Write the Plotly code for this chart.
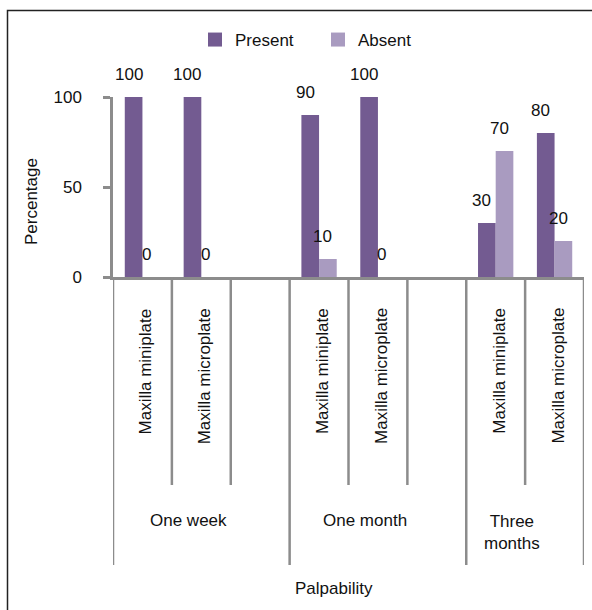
import plotly.graph_objects as go

# ---- data ----
groups = ["One week", "One month", "Three\nmonths"]
group_slots = [[0, 1], [3, 4], [6, 7]]          # slot index of each bar pair
plates = ["Maxilla miniplate", "Maxilla microplate"]
present = [100, 100, 90, 100, 30, 80]
absent = [0, 0, 10, 0, 70, 20]
y_ticks = [0, 50, 100]

PRES_COLOR = "#735B91"
ABS_COLOR = "#A99BC0"
AXIS_GRAY = "#8C8C8C"
FONT = "Liberation Sans, Arial, sans-serif"
FS = 17

W, H = 592, 610
L, R, T, B = 113, 8, 97, 333
PW, PH = W - L - R, H - T - B

def px_x(px):
    return (px - L) / PW

def px_y(py):
    return (H - B - py) / PH

xs = [s for g in group_slots for s in g]
labels_inner = [plates[i % 2] for i in range(len(xs))]

fig = go.Figure()
fig.add_trace(go.Bar(x=xs, y=present, name="Present", marker_color=PRES_COLOR,
                     marker_line_width=0, showlegend=False))
fig.add_trace(go.Bar(x=xs, y=absent, name="Absent", marker_color=ABS_COLOR,
                     marker_line_width=0, showlegend=False))
# legend entries with larger square swatches
for name, col in [("Present", PRES_COLOR), ("Absent", ABS_COLOR)]:
    fig.add_trace(go.Scatter(x=[None], y=[None], mode="markers", name=name,
                             marker=dict(symbol="square", size=14, color=col),
                             showlegend=True))

annotations = []
# data labels
for x, v in zip(xs, present):
    annotations.append(dict(x=x - 0.15, y=v, xref="x", yref="y", text=str(v),
                            showarrow=False, yshift=23, xshift=-5,
                            font=dict(size=FS, color="#111111", family=FONT)))
for x, v in zip(xs, absent):
    annotations.append(dict(x=x + 0.15, y=v, xref="x", yref="y", text=str(v),
                            showarrow=False, yshift=23, xshift=-5,
                            font=dict(size=FS, color="#111111", family=FONT)))

# inner category labels (rotated)
for x, lab in zip(xs, labels_inner):
    annotations.append(dict(x=x, y=px_y(306), xref="x", yref="paper", text=lab,
                            showarrow=False, textangle=-90, yanchor="top",
                            xanchor="center", xshift=3,
                            font=dict(size=FS, color="#111111", family=FONT)))

# group labels
n_slots = 8
bounds = []
start = -0.5
for gi, g in enumerate(group_slots):
    end = (group_slots[gi + 1][0] - 0.5) if gi + 1 < len(group_slots) else n_slots - 0.5
    bounds.append((start, end))
    start = end
for (a, b), name in zip(bounds, groups):
    two = "\n" in name
    annotations.append(dict(x=(a + b) / 2, y=px_y(510 if two else 520),
                            xref="x", yref="paper",
                            text=name.replace("\n", "<br>"), showarrow=False,
                            yanchor="top" if two else "middle", xanchor="center",
                            xshift=-13,
                            font=dict(size=FS, color="#111111", family=FONT)))

# axis titles
annotations.append(dict(x=px_x(334), y=px_y(588), xref="paper", yref="paper",
                        text="Palpability", showarrow=False,
                        xanchor="center", yanchor="middle",
                        font=dict(size=FS, color="#111111", family=FONT)))
annotations.append(dict(x=px_x(31), y=px_y(202), xref="paper", yref="paper",
                        text="Percentage", showarrow=False, textangle=-90,
                        xanchor="center", yanchor="middle",
                        font=dict(size=FS, color="#111111", family=FONT)))

shapes = []
# category divider lines
short_y, long_y = px_y(485), px_y(565)
group_edges = set([b[0] for b in bounds] + [bounds[-1][1]])
for k in range(n_slots + 1):
    xb = k - 0.5
    shapes.append(dict(type="line", xref="x", yref="paper", x0=xb, x1=xb,
                       y0=0, y1=long_y if xb in group_edges else short_y,
                       line=dict(color=AXIS_GRAY, width=2.5)))
# outer frame (left and top edges visible)
shapes.append(dict(type="rect", xref="paper", yref="paper",
                   x0=px_x(7.5), x1=px_x(620), y0=px_y(10.5), y1=px_y(640),
                   line=dict(color="#222222", width=1.5)))

fig.update_layout(
    width=W, height=H,
    margin=dict(l=L, r=R, t=T, b=B, pad=0),
    paper_bgcolor="white", plot_bgcolor="white",
    barmode="group", bargap=0.4, bargroupgap=0,
    font=dict(family=FONT, size=FS, color="#111111"),
    showlegend=True,
    legend=dict(orientation="h", x=px_x(195), xanchor="left", y=px_y(40),
                yanchor="middle", font=dict(size=FS, family=FONT),
                bgcolor="rgba(0,0,0,0)", itemwidth=30, traceorder="normal",
                entrywidth=78),
    xaxis=dict(range=[-0.5, 7.5], showticklabels=False, showgrid=False,
               zeroline=False, showline=True, linecolor=AXIS_GRAY, linewidth=2.5,
               ticks=""),
    yaxis=dict(range=[0, 100], tickvals=y_ticks, showgrid=False, zeroline=False,
               showline=True, linecolor=AXIS_GRAY, linewidth=2.5, ticks="outside",
               ticklen=7, tickwidth=2.5, tickcolor=AXIS_GRAY, ticklabelstandoff=18,
               tickfont=dict(size=FS, family=FONT, color="#111111")),
    annotations=annotations,
    shapes=shapes,
)

fig.write_html("out.html")
